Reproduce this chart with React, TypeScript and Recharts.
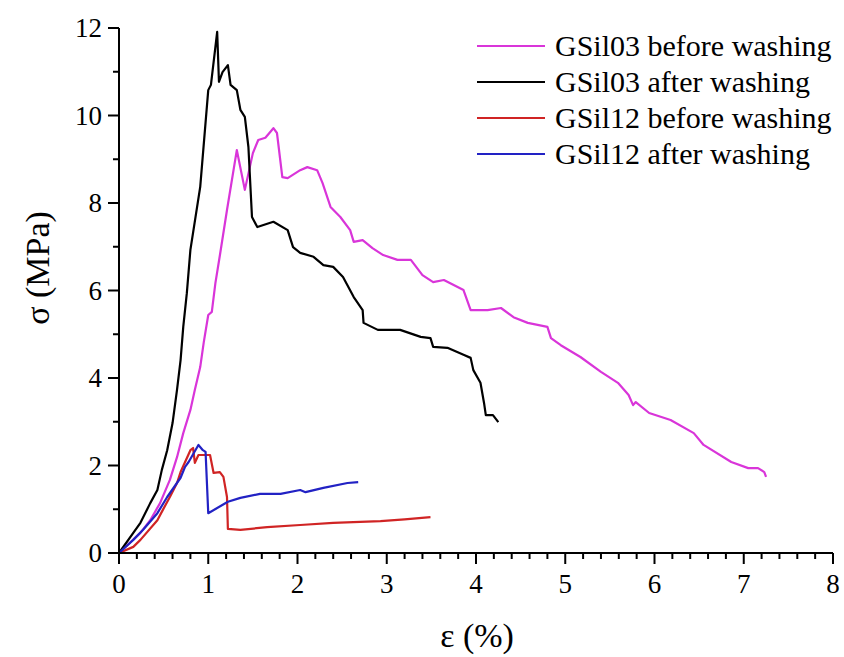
import { LineChart, Line, XAxis, YAxis } from "recharts";

// strain ε (%) and stress σ (MPa)
const gsil03BeforeStrain = [0, 0.12, 0.24, 0.35, 0.46, 0.57, 0.65, 0.72, 0.8, 0.85, 0.91, 0.95, 1.0, 1.04, 1.08, 1.13, 1.21, 1.32, 1.41, 1.5, 1.56, 1.64, 1.73, 1.77, 1.83, 1.89, 2.03, 2.11, 2.22, 2.28, 2.37, 2.48, 2.59, 2.63, 2.73, 2.84, 2.96, 3.12, 3.27, 3.4, 3.52, 3.64, 3.86, 3.94, 4.13, 4.28, 4.42, 4.58, 4.8, 4.84, 4.95, 5.17, 5.4, 5.59, 5.71, 5.76, 5.79, 5.94, 6.18, 6.44, 6.55, 6.86, 7.05, 7.16, 7.23, 7.25];
const gsil03BeforeStress = [0, 0.23, 0.46, 0.75, 1.14, 1.67, 2.19, 2.74, 3.27, 3.73, 4.25, 4.82, 5.44, 5.51, 6.17, 6.8, 7.84, 9.21, 8.3, 9.14, 9.44, 9.49, 9.71, 9.6, 8.59, 8.57, 8.75, 8.82, 8.75, 8.46, 7.91, 7.68, 7.38, 7.11, 7.15, 6.97, 6.81, 6.7, 6.7, 6.35, 6.19, 6.24, 6.01, 5.55, 5.55, 5.6, 5.39, 5.26, 5.17, 4.91, 4.75, 4.48, 4.14, 3.89, 3.61, 3.38, 3.45, 3.2, 3.04, 2.74, 2.47, 2.08, 1.94, 1.94, 1.85, 1.74];

const gsil03AfterStrain = [0, 0.16, 0.24, 0.35, 0.43, 0.48, 0.54, 0.6, 0.65, 0.69, 0.72, 0.76, 0.8, 0.91, 1.0, 1.03, 1.1, 1.12, 1.16, 1.22, 1.25, 1.32, 1.36, 1.41, 1.45, 1.49, 1.55, 1.73, 1.89, 1.95, 2.03, 2.18, 2.29, 2.4, 2.51, 2.63, 2.73, 2.74, 2.9, 3.15, 3.38, 3.49, 3.52, 3.68, 3.86, 3.94, 3.97, 4.05, 4.09, 4.11, 4.19, 4.25];
const gsil03AfterStress = [0, 0.46, 0.69, 1.14, 1.44, 1.9, 2.35, 2.97, 3.73, 4.41, 5.17, 5.94, 6.93, 8.37, 10.58, 10.7, 11.91, 10.77, 10.99, 11.15, 10.7, 10.58, 10.13, 9.97, 9.28, 7.68, 7.45, 7.57, 7.38, 6.99, 6.86, 6.77, 6.58, 6.54, 6.31, 5.85, 5.55, 5.26, 5.1, 5.1, 4.94, 4.91, 4.71, 4.69, 4.53, 4.46, 4.18, 3.89, 3.43, 3.15, 3.15, 2.99];

const gsil12BeforeStrain = [0, 0.16, 0.24, 0.43, 0.49, 0.57, 0.65, 0.69, 0.8, 0.83, 0.85, 0.89, 1.02, 1.06, 1.13, 1.17, 1.21, 1.22, 1.36, 1.66, 2.03, 2.4, 2.93, 3.2, 3.49];
const gsil12BeforeStress = [0, 0.14, 0.3, 0.75, 0.98, 1.28, 1.6, 1.85, 2.35, 2.4, 2.06, 2.24, 2.24, 1.83, 1.85, 1.74, 1.28, 0.55, 0.53, 0.59, 0.64, 0.69, 0.73, 0.77, 0.82];

const gsil12AfterStrain = [0, 0.16, 0.27, 0.43, 0.54, 0.69, 0.74, 0.78, 0.89, 0.94, 0.97, 1.0, 1.22, 1.36, 1.58, 1.81, 2.03, 2.09, 2.29, 2.56, 2.68];
const gsil12AfterStress = [0, 0.3, 0.53, 0.91, 1.28, 1.72, 1.97, 2.08, 2.47, 2.35, 2.31, 0.91, 1.17, 1.26, 1.35, 1.35, 1.44, 1.39, 1.49, 1.6, 1.62];

const xTicks = [0, 0.2, 0.4, 0.6, 0.8, 1, 1.2, 1.4, 1.6, 1.8, 2, 2.2, 2.4, 2.6, 2.8, 3, 3.2, 3.4, 3.6, 3.8, 4, 4.2, 4.4, 4.6, 4.8, 5, 5.2, 5.4, 5.6, 5.8, 6, 6.2, 6.4, 6.6, 6.8, 7, 7.2, 7.4, 7.6, 7.8, 8];
const yTicks = [0, 1, 2, 3, 4, 5, 6, 7, 8, 9, 10, 11, 12];

const toPoints = (xs: number[], ys: number[]) => xs.map((x, i) => ({ x, y: ys[i] }));

const series = [
  { name: "GSil03 before washing", color: "#d935d9", data: toPoints(gsil03BeforeStrain, gsil03BeforeStress) },
  { name: "GSil03 after washing", color: "#000000", data: toPoints(gsil03AfterStrain, gsil03AfterStress) },
  { name: "GSil12 before washing", color: "#d02424", data: toPoints(gsil12BeforeStrain, gsil12BeforeStress) },
  { name: "GSil12 after washing", color: "#2222c4", data: toPoints(gsil12AfterStrain, gsil12AfterStress) },
];

const FONT = '"Liberation Serif", "Times New Roman", serif';

const XTick = (props: any) => {
  const { x, y, payload } = props;
  const major = Number.isInteger(payload.value);
  return (
    <g>
      <line x1={x} x2={x} y1={y} y2={y + (major ? 11 : 6)} stroke="#000" strokeWidth={2} />
      {major && (
        <text x={x} y={y + 40} textAnchor="middle" fontSize={27} fontFamily={FONT} fill="#000">
          {payload.value}
        </text>
      )}
    </g>
  );
};

const YTick = (props: any) => {
  const { x, y, payload } = props;
  const major = payload.value % 2 === 0;
  return (
    <g>
      <line x1={x} x2={x - (major ? 11 : 6)} y1={y} y2={y} stroke="#000" strokeWidth={2} />
      {major && (
        <text x={x - 17} y={y + 9} textAnchor="end" fontSize={27} fontFamily={FONT} fill="#000">
          {payload.value}
        </text>
      )}
    </g>
  );
};

export default function App() {
  return (
    <div style={{ position: "relative", width: 844, height: 657, background: "#fff", fontFamily: FONT }}>
      <style>{"body{margin:0}"}</style>
      <LineChart width={844} height={657} margin={{ top: 28, right: 11, bottom: 74, left: 59 }}>
        <XAxis
          type="number"
          dataKey="x"
          domain={[0, 8]}
          ticks={xTicks}
          interval={0}
          tick={<XTick />}
          tickSize={0}
          tickMargin={0}
          tickLine={false}
          axisLine={{ stroke: "#000", strokeWidth: 2 }}
          allowDuplicatedCategory={false}
        />
        <YAxis
          type="number"
          domain={[0, 12]}
          ticks={yTicks}
          interval={0}
          tick={<YTick />}
          tickSize={0}
          tickMargin={0}
          tickLine={false}
          axisLine={{ stroke: "#000", strokeWidth: 2 }}
        />
        {series.map((s) => (
          <Line
            key={s.name}
            data={s.data}
            dataKey="y"
            name={s.name}
            type="linear"
            stroke={s.color}
            strokeWidth={2.2}
            strokeLinejoin="round"
            dot={false}
            isAnimationActive={false}
          />
        ))}
      </LineChart>

      <div
        style={{
          position: "absolute",
          left: 38,
          top: 268,
          transform: "translate(-50%, -50%) rotate(-90deg)",
          fontSize: 34,
          whiteSpace: "nowrap",
        }}
      >
        σ (MPa)
      </div>
      <div
        style={{
          position: "absolute",
          left: 477,
          top: 636,
          transform: "translate(-50%, -50%)",
          fontSize: 34,
          whiteSpace: "nowrap",
        }}
      >
        ε (%)
      </div>

      <div style={{ position: "absolute", left: 477, top: 28 }}>
        {series.map((s) => (
          <div key={s.name} style={{ display: "flex", alignItems: "center", height: 36 }}>
            <div style={{ width: 68, height: 2, background: s.color, marginRight: 10 }} />
            <span style={{ fontSize: 30, whiteSpace: "nowrap", lineHeight: "36px" }}>{s.name}</span>
          </div>
        ))}
      </div>
    </div>
  );
}
